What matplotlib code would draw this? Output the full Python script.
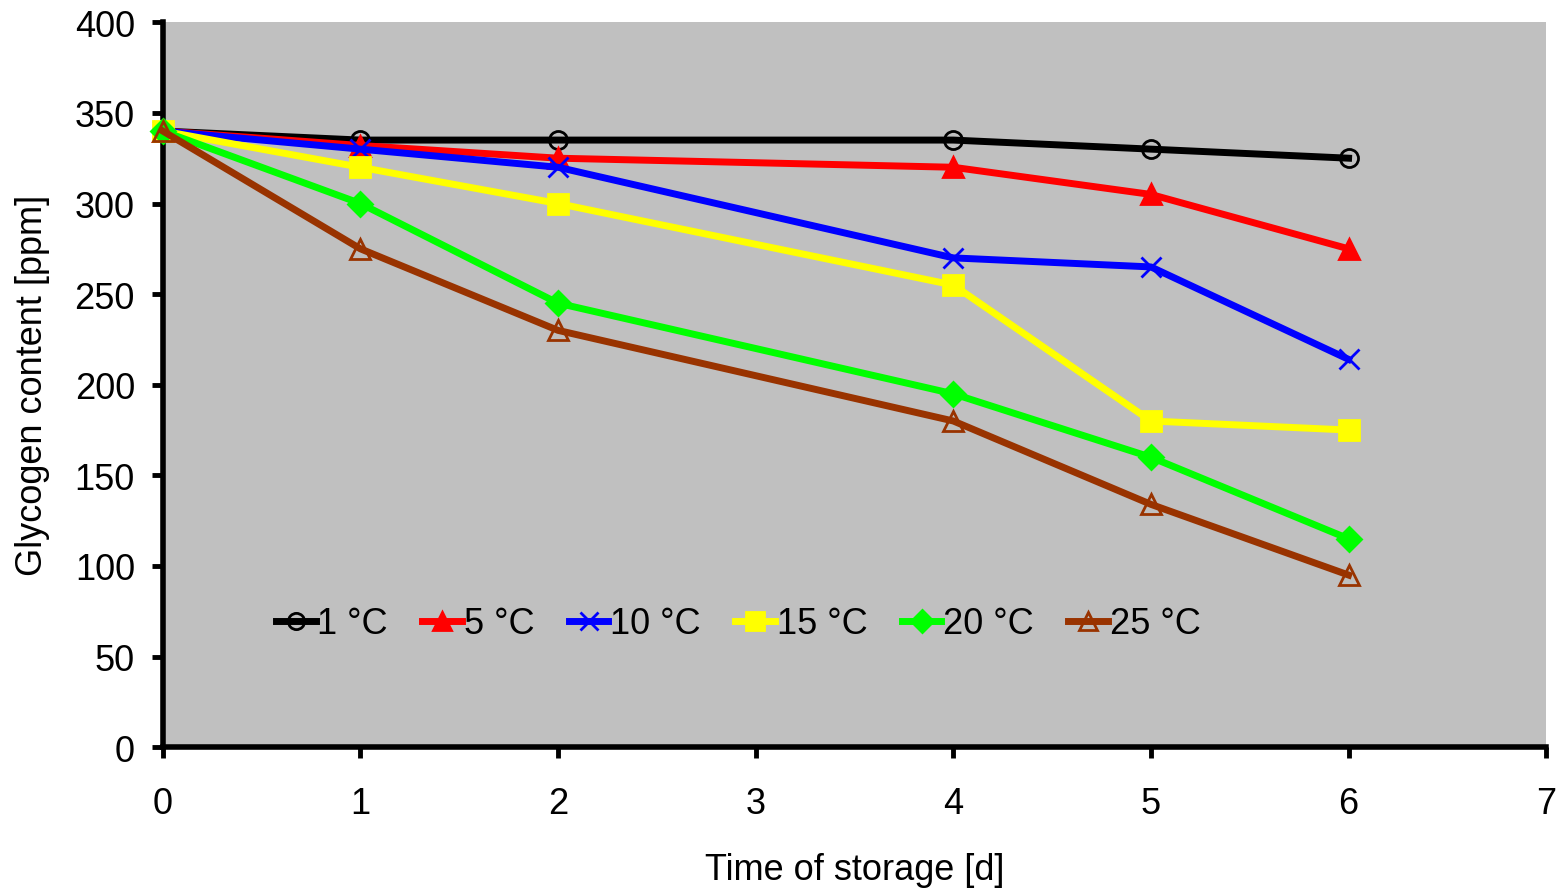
import matplotlib.pyplot as plt

plt.rcParams['font.family'] = ['Liberation Sans', 'DejaVu Sans']

days = [0, 1, 2, 4, 5, 6]
labels = ['1 °C', '5 °C', '10 °C', '15 °C', '20 °C', '25 °C']
t1 = [340, 335, 335, 335, 330, 325]
t5 = [340, 332, 325, 320, 305, 275]
t10 = [340, 330, 320, 270, 265, 214]
t15 = [340, 320, 300, 255, 180, 175]
t20 = [340, 300, 245, 195, 160, 115]
t25 = [340, 275, 230, 180, 134, 95]

series = [t1, t5, t10, t15, t20, t25]
colors = ['black', '#FF0000', '#0000FF', '#FFFF00', '#00FF00', '#993300']
markers = ['o', '^', 'x', 's', 'D', '^']
filled = [False, True, True, True, True, False]
sizes = [13, 15, 15, 14, 12, 15]

fig = plt.figure(figsize=(15.65, 8.95), dpi=100)
ax = fig.add_axes([0.104, 0.164, 0.884, 0.81])
ax.set_facecolor('#C0C0C0')

for vals, lab, c, m, f, s in zip(series, labels, colors, markers, filled, sizes):
    ax.plot(days, vals, color=c, lw=5, marker=m, ms=s,
            mfc=c if f else 'none', mec=c, mew=2,
            label=lab, clip_on=False, zorder=3)

ax.set_xlim(0, 7)
ax.set_ylim(0, 400)
ax.set_xticks(range(8))
ax.set_yticks(range(0, 401, 50))
for side in ['top', 'right']:
    ax.spines[side].set_visible(False)
for side in ['left', 'bottom']:
    ax.spines[side].set_linewidth(4)
ax.tick_params(axis='both', direction='out', length=8, width=3.5, labelsize=26)
ax.tick_params(axis='y', pad=12)
ax.tick_params(axis='x', pad=20)

ax.set_xlabel('Time of storage [d]', fontsize=26, labelpad=22)
ax.set_ylabel('Glycogen content [ppm]', fontsize=26, labelpad=18)

ax.legend(loc='center', bbox_to_anchor=(0.416, 0.17), ncol=6, frameon=False,
          fontsize=26, handlelength=1.1, handletextpad=0.05, columnspacing=0.95,
          markerscale=0.9)

fig.savefig('out.png', dpi=100)
